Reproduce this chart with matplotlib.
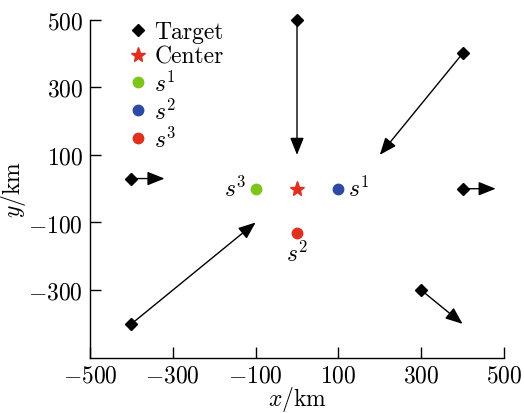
import matplotlib
matplotlib.use("Agg")
import matplotlib.pyplot as plt

plt.rcParams['mathtext.fontset'] = 'cm'
plt.rcParams['font.family'] = ['cmr10', 'DejaVu Serif']
plt.rcParams['axes.unicode_minus'] = False

# Targets and their velocity-arrow tips (km)
target_x = [0, 400, -400, 400, -400, 300]
target_y = [500, 400, 30, 0, -400, -300]
arrow_x = [0, 200, -320, 480, -100, 400]
arrow_y = [100, 100, 30, 0, -100, -400]

center = (0, 0)
s1 = (100, 0)
s2 = (0, -130)
s3 = (-100, 0)

xticks = [-500, -300, -100, 100, 300, 500]
yticks = [-300, -100, 100, 300, 500]
xticklabels = [r'$-500$', r'$-300$', r'$-100$', r'$100$', r'$300$', r'$500$']
yticklabels = [r'$-300$', r'$-100$', r'$100$', r'$300$', r'$500$']

GREEN = '#7cc61c'
BLUE = '#2d4aa6'
RED = '#e1301f'
FS = 17

fig = plt.figure(figsize=(5.24, 4.14), dpi=100)
ax = fig.add_axes([0.1718, 0.1336, 0.79, 0.8164])

for tx, ty, ax_, ay_ in zip(target_x, target_y, arrow_x, arrow_y):
    ax.annotate('', xy=(ax_, ay_), xytext=(tx, ty), annotation_clip=False,
                arrowprops=dict(arrowstyle='-|>,head_length=0.75,head_width=0.3',
                                color='black', lw=1.0,
                                shrinkA=0, shrinkB=0, mutation_scale=14))

ax.plot(target_x, target_y, 'D', color='black', markersize=6.5, label='Target',
        linestyle='none', clip_on=False)
ax.plot([center[0]], [center[1]], '*', color=RED, markersize=11, label='Center',
        linestyle='none')
ax.plot([s3[0]], [s3[1]], 'o', color=GREEN, markersize=7.5, label=r'$s^1$')
ax.plot([s1[0]], [s1[1]], 'o', color=BLUE, markersize=7.5, label=r'$s^2$')
ax.plot([s2[0]], [s2[1]], 'o', color=RED, markersize=7.5, label=r'$s^3$')

ax.text(s1[0] + 22, s1[1], r'$s^1$', fontsize=FS, ha='left', va='center')
ax.text(s3[0] - 22, s3[1], r'$s^3$', fontsize=FS, ha='right', va='center')
ax.text(s2[0], s2[1] - 25, r'$s^2$', fontsize=FS, ha='center', va='top')

ax.set_xlim(-500, 500)
ax.set_ylim(-500, 500)
ax.set_xticks(xticks)
ax.set_xticklabels(xticklabels)
ax.set_yticks(yticks)
ax.set_yticklabels(yticklabels)
ax.tick_params(direction='in', length=8, width=1, labelsize=FS, pad=5)
ax.spines['top'].set_visible(False)
ax.spines['right'].set_visible(False)
ax.spines['left'].set_linewidth(1.0)
ax.spines['bottom'].set_linewidth(1.0)

ax.set_xlabel(r'$x/\mathrm{km}$', fontsize=FS, labelpad=-2)
ax.set_ylabel(r'$y/\mathrm{km}$', fontsize=FS, labelpad=0)

ax.legend(loc='upper left', bbox_to_anchor=(0.07, 1.025), frameon=False,
          fontsize=FS, handlelength=0.8, handletextpad=0.3, labelspacing=0.12,
          borderaxespad=0)

fig.savefig('out.png', dpi=100)
